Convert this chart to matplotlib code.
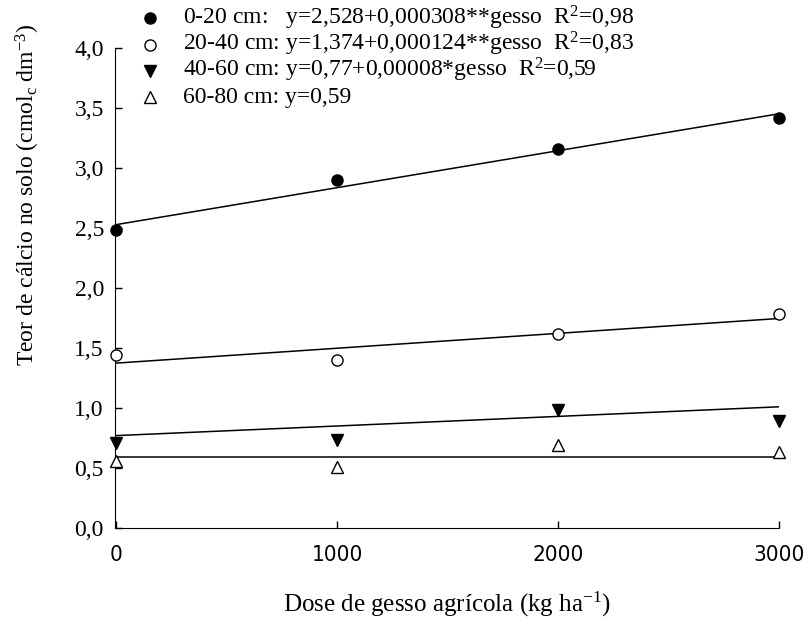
import matplotlib
matplotlib.use("Agg")
import matplotlib.pyplot as plt
import numpy as np
from matplotlib.lines import Line2D
from matplotlib import font_manager

plt.rcParams['font.family'] = ['Liberation Serif', 'DejaVu Serif']
plt.rcParams['mathtext.fontset'] = 'custom'
plt.rcParams['mathtext.rm'] = 'Liberation Serif'
plt.rcParams['mathtext.it'] = 'Liberation Serif:italic'

doses = [0, 1000, 2000, 3000]
ca_0_20 = [2.48, 2.90, 3.16, 3.42]
ca_20_40 = [1.44, 1.40, 1.62, 1.78]
ca_40_60 = [0.71, 0.73, 0.98, 0.89]
ca_60_80 = [0.56, 0.51, 0.69, 0.63]

coef_0_20 = (2.528, 0.000308)
coef_20_40 = (1.374, 0.000124)
coef_40_60 = (0.77, 0.00008)
coef_60_80 = (0.59, 0.0)

labels = [
    "0-20 cm:   y=2,528+0,000308**gesso  R$^2$=0,98",
    "20-40 cm: y=1,374+0,000124**gesso  R$^2$=0,83",
    "40-60 cm: y=0,77+0,00008*gesso  R$^2$=0,59",
    "60-80 cm: y=0,59",
]
yticks = [0.0, 0.5, 1.0, 1.5, 2.0, 2.5, 3.0, 3.5, 4.0]
xticks = [0, 1000, 2000, 3000]

# narrow sans for x tick labels if available
narrow_fp = None
for f in font_manager.findSystemFonts():
    name = f.lower()
    if 'dejavusanscondensed.ttf' in name or 'liberationsansnarrow-regular' in name:
        narrow_fp = font_manager.FontProperties(fname=f, size=16)
        break
if narrow_fp is None:
    narrow_fp = font_manager.FontProperties(family='Liberation Sans', size=15)

W, H = 808, 629
fig = plt.figure(figsize=(W / 100, H / 100), dpi=100)
ax = fig.add_axes([115 / W, 1 - 528 / H, 664 / W, 480 / H])

series = [
    (ca_0_20, coef_0_20, dict(marker='o', mfc='black', mec='black', ms=8)),
    (ca_20_40, coef_20_40, dict(marker='o', mfc='white', mec='black', ms=8, mew=1.0)),
    (ca_40_60, coef_40_60, dict(marker='v', mfc='black', mec='black', ms=8)),
    (ca_60_80, coef_60_80, dict(marker='^', mfc='white', mec='black', ms=8, mew=1.0)),
]
xs = np.array([0, 3000])
for vals, (a, b), st in series:
    ax.plot(xs, a + b * xs, color='black', lw=1.1, zorder=2)
    ax.plot(doses, vals, ls='none', clip_on=False, zorder=3, **st)

ax.set_xlim(-5, 3000)
ax.set_ylim(0, 4.0)
ax.spines['top'].set_visible(False)
ax.spines['right'].set_visible(False)
ax.set_yticks(yticks)
ax.set_yticklabels([f"{v:.1f}".replace('.', ',') for v in yticks], fontsize=17)
ax.set_xticks(xticks)
ax.set_xticklabels([str(v) for v in xticks])
for t in ax.get_xticklabels():
    t.set_fontproperties(narrow_fp)
ax.tick_params(axis='both', direction='in', length=5, width=1.0)
ax.tick_params(axis='x', pad=12)
ax.tick_params(axis='y', pad=8)

ax.set_ylabel("Teor de cálcio no solo (cmol$_\\mathrm{c}$ dm$^{-3}$)", fontsize=17)
ax.yaxis.set_label_coords((42 - 115) / 664, (528 - 195) / 480)
ax.set_xlabel("Dose de gesso agrícola (kg ha$^{-1}$)", fontsize=18)
ax.xaxis.set_label_coords(0.5, -(590 - 528) / 480)

# legend rows placed manually
row_y = [18, 45, 71, 97]
for lab, y, (_, _, st) in zip(labels, row_y, series):
    fig.add_artist(Line2D([150 / W], [1 - y / H], transform=fig.transFigure, ls='none', **st))
    fig.text(183 / W, 1 - (y + 6) / H, lab, fontsize=17, va='baseline', ha='left')

fig.savefig("out.png", dpi=100)
